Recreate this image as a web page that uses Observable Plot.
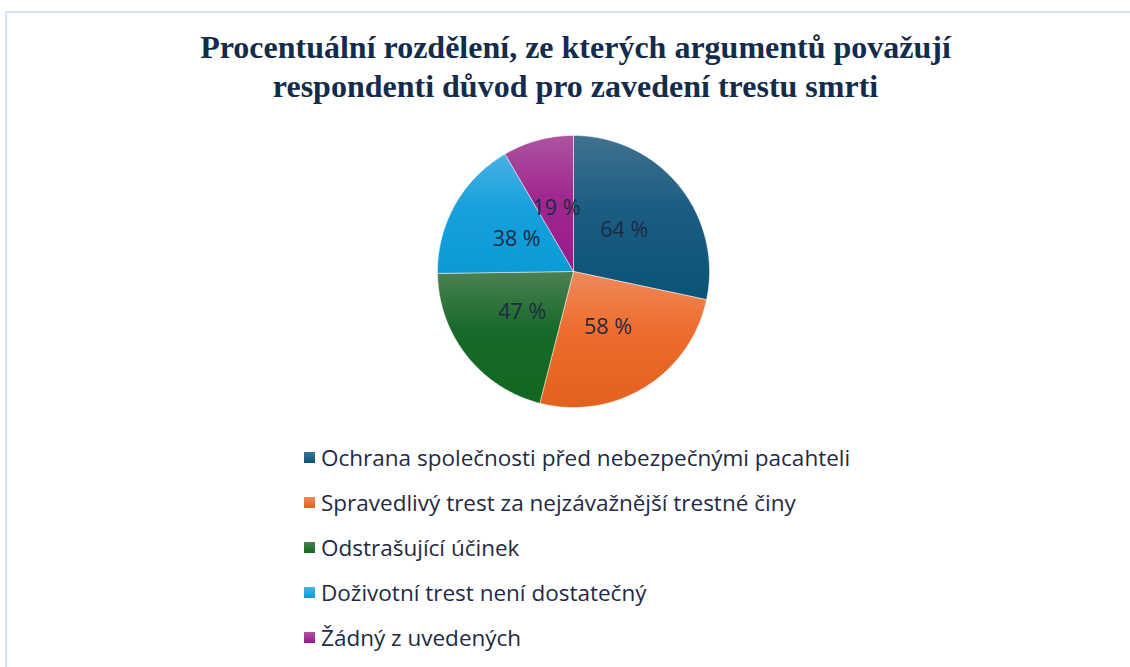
<!DOCTYPE html>
<html><head><meta charset="utf-8">
<script src="https://cdn.jsdelivr.net/npm/d3@7"></script>
<script src="https://cdn.jsdelivr.net/npm/@observablehq/plot@0.6"></script>
<style>
body{margin:0;background:#fff;}
#wrap{position:relative;width:1130px;height:667px;overflow:hidden;background:#fff;}
#frame{position:absolute;left:5px;top:11px;width:1200px;height:700px;border-left:2px solid #d3e3f4;border-top:2px solid #d3e3f4;}
#title{position:absolute;left:0;width:1151px;top:28px;text-align:center;font-family:"Liberation Serif",serif;font-weight:bold;font-size:32px;color:#142c4c;line-height:39px;}
#pie{position:absolute;left:437px;top:135px;}
#legend{position:absolute;left:304px;top:435px;font-family:"Open Sans",sans-serif;font-size:22.5px;color:#1f2a44;}
.row{height:45px;display:flex;align-items:center;white-space:nowrap;}
.sw{width:11px;height:11px;margin-right:6px;flex:none;}
</style>
</head><body>
<div id="wrap">
<div id="frame"></div>
<div id="title">Procentuální rozdělení, ze kterých argumentů považují<br>respondenti důvod pro zavedení trestu smrti</div>
<div id="pie"></div>
<div id="legend"></div>
</div>
<script>
const categories = [
  "Ochrana společnosti před nebezpečnými pacahteli",
  "Spravedlivý trest za nejzávažnější trestné činy",
  "Odstrašující účinek",
  "Doživotní trest není dostatečný",
  "Žádný z uvedených"
];
const values = [64, 58, 47, 38, 19];
const colors = ["#1b5c82", "#ee6c2c", "#17692a", "#16a0dc", "#a0288f"];
const gradTop = ["#41718f", "#ee8a5c", "#4c8052", "#4ab1e3", "#ae54a0"];
const gradBottom = ["#0a5377", "#e1611d", "#11681f", "#0a9bd7", "#981a8b"];

const arcs = d3.pie().sort(null).value(d => d)(values);
const pts = [];
arcs.forEach((p, i) => {
  pts.push({k: i, x: 0, y: 0});
  const n = Math.max(2, Math.ceil((p.endAngle - p.startAngle) / (Math.PI / 180)));
  for (let j = 0; j <= n; j++) {
    const a = p.startAngle + (p.endAngle - p.startAngle) * j / n;
    pts.push({k: i, x: Math.sin(a), y: Math.cos(a)});
  }
  pts.push({k: i, x: 0, y: 0});
});
const labels = arcs.map((p, i) => {
  const m = (p.startAngle + p.endAngle) / 2;
  return {x: 0.48 * Math.sin(m), y: 0.48 * Math.cos(m), t: values[i] + " %"};
});

const size = 272;
const plot = Plot.plot({
  width: size, height: size,
  margin: 0,
  x: {domain: [-1, 1], axis: null},
  y: {domain: [-1, 1], axis: null},
  color: {type: "identity"},
  style: {background: "transparent", overflow: "visible"},
  marks: [
    Plot.line(pts, {x: "x", y: "y", z: "k", fill: d => `url(#g${d.k})`, stroke: "#ffffff", strokeOpacity: 0.6, strokeWidth: 0.8, curve: "linear"}),
    Plot.text(labels, {x: "x", y: "y", text: "t", fill: "#1e2a44", fontSize: 21.5, fontFamily: "Open Sans, sans-serif"})
  ]
});
const defs = d3.select(plot).insert("defs", ":first-child");
colors.forEach((c, i) => {
  const g = defs.append("linearGradient").attr("id", "g" + i)
    .attr("x1", 0).attr("y1", 0).attr("x2", 0).attr("y2", 1);
  g.append("stop").attr("offset", "0%").attr("stop-color", gradTop[i]);
  g.append("stop").attr("offset", "45%").attr("stop-color", colors[i]);
  g.append("stop").attr("offset", "100%").attr("stop-color", gradBottom[i]);
});
document.getElementById("pie").appendChild(plot);

const leg = d3.select("#legend");
categories.forEach((c, i) => {
  const r = leg.append("div").attr("class", "row");
  r.append("div").attr("class", "sw").style("background", `linear-gradient(${gradTop[i]}, ${gradBottom[i]})`);
  r.append("span").text(c);
});
</script>
</body></html>
